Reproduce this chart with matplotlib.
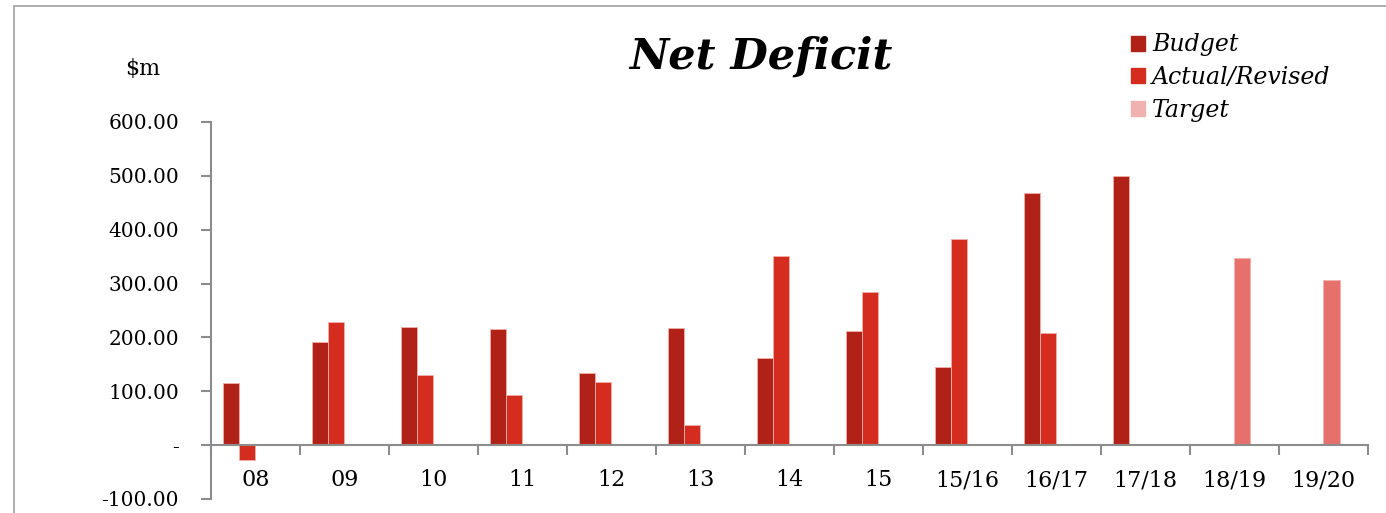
import numpy as np
import matplotlib.pyplot as plt
from matplotlib.patches import Patch, Rectangle

# Net deficit by year, $m
years = ["08", "09", "10", "11", "12", "13", "14", "15", "15/16", "16/17", "17/18", "18/19", "19/20"]
budget = [115, 191, 219, 216, 134, 217, 162, 212, 145, 468, 500, np.nan, np.nan]
actual = [-28, 229, 130, 93, 117, 37, 351, 284, 383, 208, np.nan, np.nan, np.nan]
target = [np.nan] * 11 + [348, 307]

budget_col = "#B02218"
actual_col = "#D42D1F"
target_col = "#E6716C"
edge_col = "#F2B0A8"
grey = "#8C8C8C"

plt.rcParams["font.family"] = ["DejaVu Serif"]

fig = plt.figure(figsize=(13.86, 5.13), dpi=100)
ax = fig.add_axes([0.1522, 0.0273, 0.8348, 0.7349])

x = np.arange(len(years))
w = 0.18
ax.bar(x - 2 * w, budget, w, align="edge", color=budget_col, edgecolor=edge_col, linewidth=0.6)
ax.bar(x - w, actual, w, align="edge", color=actual_col, edgecolor=edge_col, linewidth=0.6)
ax.bar(x, target, w, align="edge", color=target_col, edgecolor=edge_col, linewidth=0.6)

ax.set_xlim(-0.5, len(years) - 0.5)
ax.set_ylim(-100, 600)

# axes: left spine plus a category axis sitting on zero
for s in ["top", "right"]:
    ax.spines[s].set_visible(False)
ax.spines["bottom"].set_position(("data", 0))
ax.spines["bottom"].set_color(grey)
ax.spines["left"].set_color(grey)
ax.spines["bottom"].set_linewidth(1.5)
ax.spines["left"].set_linewidth(1.5)

ax.set_yticks(np.arange(-100, 601, 100))
ax.set_yticklabels(["-100.00", "-", "100.00", "200.00", "300.00", "400.00", "500.00", "600.00"])
ax.tick_params(axis="y", direction="out", length=7, width=1.5, color=grey, labelsize=14.5, pad=16)

ax.set_xticks(np.arange(-0.5, len(years), 1.0))
ax.set_xticklabels([])
ax.tick_params(axis="x", direction="out", length=7, width=1.5, color=grey)
for i, lab in enumerate(years):
    ax.text(i, -65, lab, ha="center", va="center", fontsize=16)

fig.text(0.549, 0.89, "Net Deficit", ha="center", va="center",
         fontsize=31, fontweight="bold", fontstyle="italic")
fig.text(0.103, 0.865, "$m", ha="center", va="center", fontsize=16)

handles = [Patch(color=budget_col), Patch(color=actual_col), Patch(color="#EFB2B0")]
leg = fig.legend(handles, ["Budget", "Actual/Revised", "Target"],
                 loc="upper left", bbox_to_anchor=(0.816, 0.935), frameon=False,
                 handlelength=0.6, handleheight=0.6, handletextpad=0.3,
                 labelspacing=0.42, borderaxespad=0, borderpad=0,
                 prop={"size": 17, "style": "italic"})

# thin grey frame around the chart area
fig.patches.append(Rectangle((0.0101, -0.1), 1.2, 1.088, transform=fig.transFigure,
                             fill=False, edgecolor="#A0A0A0", linewidth=1.2))

fig.savefig("out.png", dpi=100)
